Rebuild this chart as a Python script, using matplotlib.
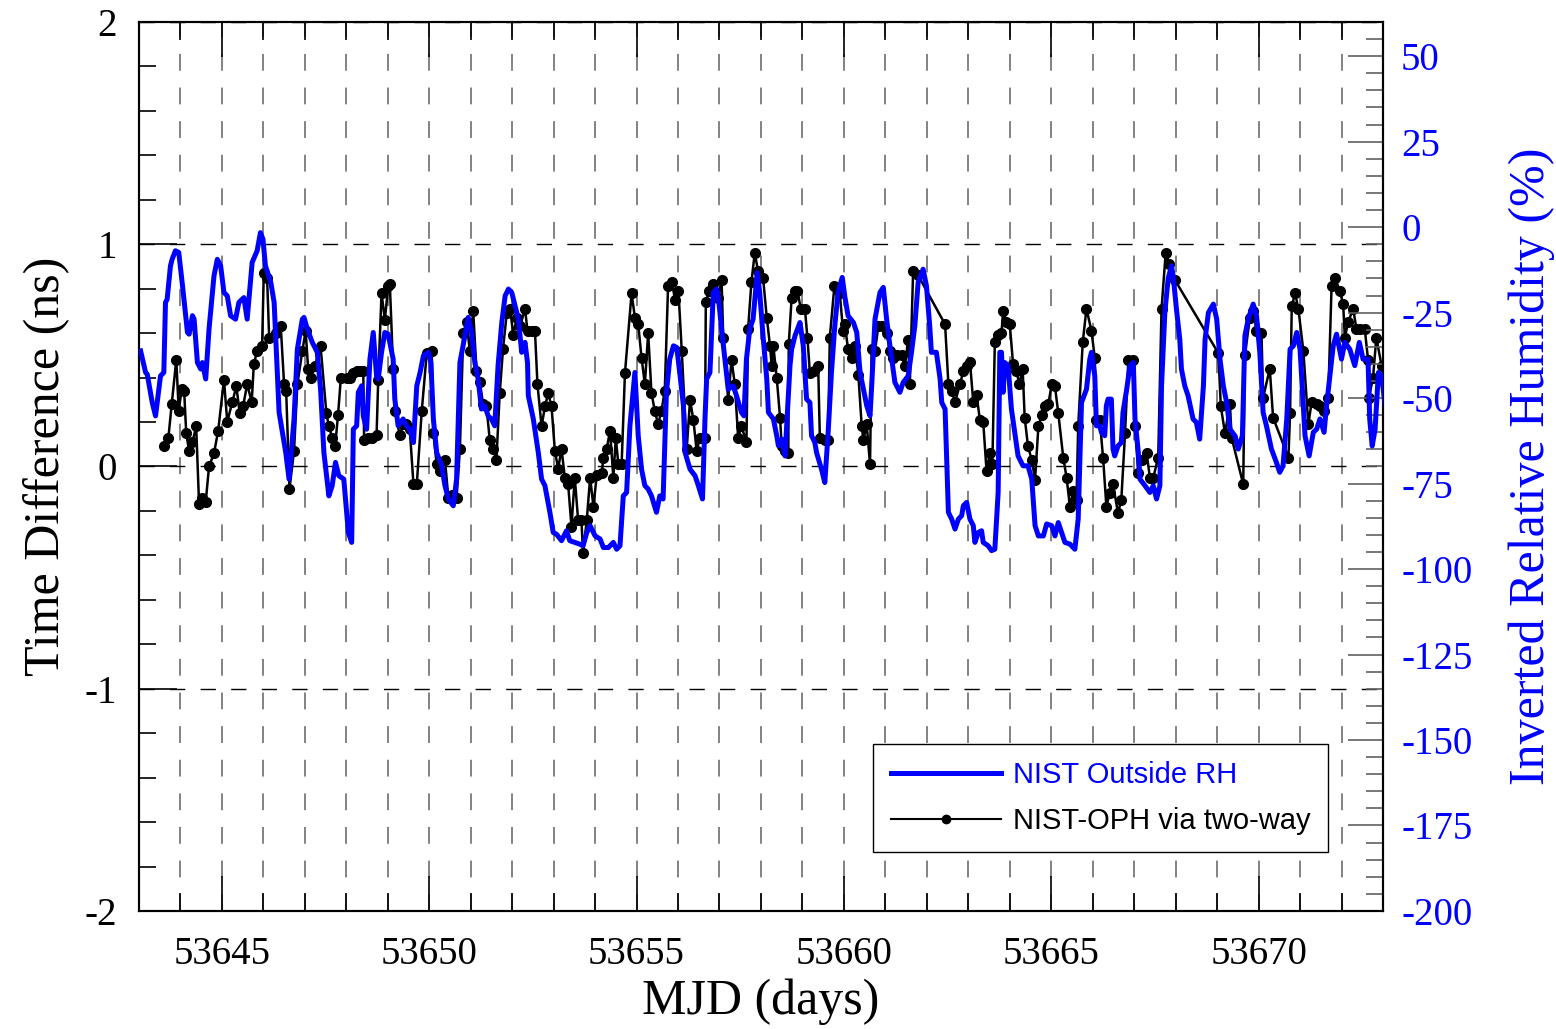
import matplotlib
matplotlib.use("Agg")
import matplotlib.pyplot as plt
from matplotlib.ticker import MultipleLocator, FormatStrFormatter
from matplotlib.lines import Line2D

plt.rcParams["axes.unicode_minus"] = False

# NIST outside relative humidity, plotted inverted (%), vs MJD
rh_mjd = [
    53643.04, 53643.16, 53643.20, 53643.32, 53643.40, 53643.52, 53643.60, 53643.64, 53643.68, 53643.76,
    53643.80, 53643.88, 53643.96, 53644.05, 53644.17, 53644.21, 53644.29, 53644.33, 53644.41, 53644.49,
    53644.53, 53644.61, 53644.69, 53644.81, 53644.89, 53644.97, 53645.05, 53645.13, 53645.21, 53645.33,
    53645.41, 53645.53, 53645.61, 53645.73, 53645.85, 53645.93, 53645.99, 53646.05, 53646.18, 53646.26,
    53646.38, 53646.54, 53646.62, 53646.74, 53646.82, 53646.94, 53646.98, 53647.06, 53647.18, 53647.30,
    53647.38, 53647.46, 53647.58, 53647.66, 53647.74, 53647.82, 53647.94, 53648.05, 53648.13, 53648.17,
    53648.25, 53648.29, 53648.37, 53648.41, 53648.49, 53648.57, 53648.65, 53648.73, 53648.77, 53648.85,
    53648.93, 53649.01, 53649.13, 53649.17, 53649.25, 53649.37, 53649.45, 53649.53, 53649.62, 53649.70,
    53649.78, 53649.86, 53649.98, 53650.04, 53650.10, 53650.18, 53650.30, 53650.38, 53650.46, 53650.58,
    53650.66, 53650.74, 53650.86, 53650.94, 53651.02, 53651.10, 53651.18, 53651.26, 53651.34, 53651.42,
    53651.50, 53651.58, 53651.66, 53651.75, 53651.83, 53651.91, 53651.99, 53652.07, 53652.15, 53652.23,
    53652.31, 53652.37, 53652.39, 53652.51, 53652.63, 53652.71, 53652.79, 53652.91, 53652.99, 53653.07,
    53653.19, 53653.31, 53653.39, 53653.51, 53653.63, 53653.71, 53653.80, 53653.88, 53654.00, 53654.12,
    53654.20, 53654.32, 53654.44, 53654.52, 53654.60, 53654.68, 53654.76, 53654.84, 53654.96, 53655.04,
    53655.12, 53655.20, 53655.28, 53655.36, 53655.48, 53655.56, 53655.64, 53655.72, 53655.80, 53655.89,
    53655.97, 53656.05, 53656.13, 53656.17, 53656.29, 53656.41, 53656.49, 53656.59, 53656.65, 53656.69,
    53656.77, 53656.85, 53656.93, 53656.97, 53657.05, 53657.13, 53657.21, 53657.33, 53657.41, 53657.53,
    53657.59, 53657.65, 53657.73, 53657.81, 53657.91, 53657.97, 53658.05, 53658.14, 53658.18, 53658.30,
    53658.38, 53658.42, 53658.50, 53658.58, 53658.66, 53658.70, 53658.74, 53658.82, 53658.94, 53659.02,
    53659.10, 53659.18, 53659.22, 53659.30, 53659.34, 53659.46, 53659.54, 53659.62, 53659.70, 53659.78,
    53659.86, 53659.96, 53660.02, 53660.10, 53660.23, 53660.31, 53660.39, 53660.47, 53660.55, 53660.63,
    53660.67, 53660.71, 53660.75, 53660.87, 53660.95, 53661.03, 53661.11, 53661.23, 53661.35, 53661.43,
    53661.55, 53661.63, 53661.71, 53661.79, 53661.91, 53661.99, 53662.07, 53662.11, 53662.23, 53662.32,
    53662.36, 53662.44, 53662.52, 53662.60, 53662.68, 53662.76, 53662.84, 53662.88, 53662.96, 53663.04,
    53663.12, 53663.16, 53663.24, 53663.32, 53663.36, 53663.48, 53663.56, 53663.64, 53663.72, 53663.76,
    53663.80, 53663.84, 53663.88, 53663.96, 53664.04, 53664.12, 53664.20, 53664.32, 53664.44, 53664.53,
    53664.61, 53664.69, 53664.81, 53664.89, 53665.01, 53665.09, 53665.17, 53665.25, 53665.33, 53665.45,
    53665.57, 53665.65, 53665.73, 53665.85, 53665.93, 53665.97, 53666.05, 53666.09, 53666.17, 53666.21,
    53666.29, 53666.33, 53666.37, 53666.45, 53666.49, 53666.53, 53666.61, 53666.69, 53666.73, 53666.82,
    53666.90, 53666.98, 53667.02, 53667.10, 53667.14, 53667.26, 53667.38, 53667.46, 53667.54, 53667.62,
    53667.66, 53667.74, 53667.82, 53667.90, 53667.94, 53668.02, 53668.10, 53668.14, 53668.22, 53668.30,
    53668.42, 53668.50, 53668.58, 53668.67, 53668.71, 53668.79, 53668.91, 53668.99, 53669.07, 53669.15,
    53669.23, 53669.31, 53669.43, 53669.51, 53669.61, 53669.67, 53669.75, 53669.87, 53669.95, 53670.03,
    53670.11, 53670.19, 53670.31, 53670.43, 53670.51, 53670.59, 53670.68, 53670.76, 53670.84, 53670.92,
    53671.00, 53671.12, 53671.22, 53671.32, 53671.40, 53671.48, 53671.58, 53671.64, 53671.72, 53671.80,
    53671.88, 53672.00, 53672.08, 53672.20, 53672.32, 53672.43, 53672.52, 53672.64, 53672.68, 53672.74,
    53672.81, 53672.89, 53672.97, 53673.05,
]
rh_val = [
    -36.2, -42.5, -43.0, -51.3, -55.2, -43.5, -42.5, -22.0, -21.1, -11.3,
    -9.4, -6.9, -7.4, -17.1, -30.8, -31.3, -25.9, -26.9, -39.6, -41.5,
    -39.6, -44.4, -29.8, -14.2, -9.4, -11.3, -19.1, -20.1, -25.9, -26.9,
    -22.0, -20.6, -26.9, -10.3, -6.9, -1.6, -3.5, -11.3, -16.2, -22.0,
    -54.2, -65.9, -73.7, -56.1, -35.7, -26.9, -26.4, -29.8, -33.7, -36.6,
    -47.4, -65.9, -78.6, -75.6, -68.8, -72.7, -73.7, -89.3, -92.2, -59.1,
    -58.1, -48.3, -46.4, -55.2, -59.1, -38.6, -30.8, -43.5, -44.4, -36.6,
    -30.8, -31.3, -38.6, -50.3, -58.1, -56.1, -58.1, -59.1, -63.0, -46.4,
    -42.5, -37.6, -36.6, -39.6, -56.1, -65.9, -69.8, -75.6, -79.5, -81.5,
    -73.7, -39.6, -31.8, -26.4, -30.8, -39.6, -44.4, -53.2, -52.2, -55.2,
    -56.1, -58.1, -40.5, -27.9, -20.1, -18.1, -19.1, -23.0, -26.9, -36.6,
    -33.7, -39.6, -49.3, -56.1, -65.9, -73.7, -75.6, -83.4, -89.3, -89.8,
    -91.7, -88.8, -91.7, -92.2, -92.7, -93.2, -89.3, -87.3, -90.3, -91.2,
    -93.7, -93.7, -92.2, -94.2, -93.2, -78.6, -77.6, -58.1, -42.5, -61.0,
    -70.8, -75.6, -76.6, -78.6, -83.4, -78.6, -79.5, -48.3, -38.6, -34.7,
    -35.2, -43.5, -52.2, -65.9, -70.8, -72.7, -75.6, -79.5, -56.1, -44.4,
    -42.5, -19.1, -18.1, -20.1, -29.8, -38.6, -47.4, -46.4, -49.3, -54.2,
    -55.2, -38.6, -29.8, -26.9, -13.3, -19.1, -31.8, -44.4, -54.2, -56.1,
    -61.0, -63.9, -62.0, -66.9, -49.3, -40.5, -35.7, -31.8, -27.9, -34.7,
    -50.3, -51.3, -61.0, -63.0, -65.9, -70.8, -74.7, -60.0, -42.5, -28.9,
    -19.1, -14.7, -20.1, -25.9, -27.9, -30.8, -42.5, -47.4, -52.2, -55.2,
    -46.4, -36.6, -26.9, -19.1, -17.6, -26.9, -34.7, -45.4, -48.3, -45.4,
    -43.5, -36.6, -28.9, -16.2, -12.3, -17.1, -28.9, -36.6, -36.6, -44.4,
    -51.3, -53.2, -83.4, -85.4, -88.3, -85.4, -84.4, -81.5, -80.5, -85.4,
    -87.3, -92.2, -89.3, -88.8, -92.2, -93.2, -94.6, -94.2, -77.6, -36.6,
    -36.6, -48.3, -39.6, -40.5, -53.2, -60.0, -66.9, -69.8, -69.8, -73.7,
    -87.3, -90.3, -90.3, -86.8, -87.3, -90.3, -86.4, -89.3, -92.2, -92.7,
    -94.2, -85.4, -51.3, -47.4, -38.6, -36.6, -43.5, -58.1, -58.1, -60.0,
    -61.0, -52.2, -50.3, -50.3, -64.9, -66.9, -64.0, -63.0, -54.2, -47.4,
    -40.5, -39.6, -56.1, -65.9, -73.7, -75.6, -77.6, -75.6, -79.5, -75.6,
    -46.4, -24.9, -15.0, -11.3, -14.2, -24.0, -32.8, -41.5, -46.4, -49.3,
    -56.1, -57.1, -62.0, -46.4, -32.8, -25.0, -22.5, -26.9, -38.6, -46.4,
    -51.3, -59.1, -61.0, -64.9, -61.0, -31.8, -26.9, -22.5, -25.9, -36.6,
    -54.2, -58.1, -64.9, -68.8, -71.7, -69.8, -56.1, -35.7, -34.7, -30.8,
    -35.7, -61.0, -66.9, -60.0, -59.1, -56.1, -60.0, -52.2, -43.5, -34.7,
    -31.3, -38.6, -33.7, -35.7, -40.5, -33.7, -38.6, -38.6, -56.1, -64.0,
    -59.1, -42.5, -43.5, -52.2,
]

# NIST-OPH time difference via two-way (ns)
td_mjd = [
    53643.60, 53643.71, 53643.79, 53643.90, 53643.96, 53644.03, 53644.09, 53644.14, 53644.21, 53644.29,
    53644.38, 53644.45, 53644.53, 53644.61, 53644.69, 53644.81, 53644.91, 53645.05, 53645.13, 53645.25,
    53645.35, 53645.43, 53645.51, 53645.61, 53645.72, 53645.77, 53645.85, 53645.97, 53646.01, 53646.09,
    53646.14, 53646.30, 53646.42, 53646.50, 53646.55, 53646.63, 53646.74, 53646.82, 53646.94, 53647.02,
    53647.08, 53647.16, 53647.24, 53647.38, 53647.52, 53647.58, 53647.66, 53647.73, 53647.80, 53647.87,
    53648.01, 53648.09, 53648.17, 53648.25, 53648.33, 53648.41, 53648.43, 53648.53, 53648.61, 53648.73,
    53648.77, 53648.85, 53648.93, 53649.01, 53649.05, 53649.13, 53649.17, 53649.29, 53649.37, 53649.45,
    53649.53, 53649.62, 53649.70, 53649.82, 53649.94, 53650.06, 53650.10, 53650.18, 53650.26, 53650.38,
    53650.46, 53650.54, 53650.66, 53650.74, 53650.82, 53650.90, 53650.98, 53651.06, 53651.14, 53651.22,
    53651.30, 53651.38, 53651.46, 53651.54, 53651.62, 53651.70, 53651.78, 53651.87, 53651.95, 53652.03,
    53652.11, 53652.19, 53652.31, 53652.37, 53652.47, 53652.55, 53652.61, 53652.71, 53652.79, 53652.87,
    53652.95, 53653.03, 53653.11, 53653.19, 53653.27, 53653.35, 53653.43, 53653.51, 53653.59, 53653.67,
    53653.71, 53653.80, 53653.88, 53653.96, 53654.04, 53654.16, 53654.20, 53654.28, 53654.36, 53654.44,
    53654.50, 53654.56, 53654.64, 53654.72, 53654.88, 53654.96, 53655.04, 53655.12, 53655.20, 53655.28,
    53655.36, 53655.44, 53655.52, 53655.60, 53655.68, 53655.76, 53655.85, 53655.93, 53656.01, 53656.09,
    53656.21, 53656.29, 53656.37, 53656.45, 53656.53, 53656.65, 53656.67, 53656.75, 53656.85, 53656.97,
    53657.05, 53657.09, 53657.21, 53657.29, 53657.37, 53657.45, 53657.53, 53657.65, 53657.69, 53657.77,
    53657.85, 53657.93, 53658.05, 53658.14, 53658.22, 53658.26, 53658.30, 53658.38, 53658.46, 53658.50,
    53658.58, 53658.66, 53658.67, 53658.74, 53658.82, 53658.88, 53658.96, 53659.06, 53659.12, 53659.18,
    53659.29, 53659.38, 53659.42, 53659.54, 53659.62, 53659.66, 53659.77, 53659.90, 53659.98, 53660.02,
    53660.10, 53660.19, 53660.27, 53660.35, 53660.43, 53660.47, 53660.55, 53660.63, 53660.67, 53660.75,
    53660.83, 53660.91, 53661.03, 53661.11, 53661.19, 53661.27, 53661.39, 53661.47, 53661.55, 53661.59,
    53661.67, 53661.79, 53662.44, 53662.52, 53662.60, 53662.68, 53662.80, 53662.88, 53662.96, 53663.04,
    53663.12, 53663.20, 53663.28, 53663.36, 53663.44, 53663.52, 53663.58, 53663.64, 53663.72, 53663.80,
    53663.84, 53663.92, 53664.00, 53664.08, 53664.16, 53664.23, 53664.31, 53664.36, 53664.44, 53664.53,
    53664.61, 53664.69, 53664.77, 53664.85, 53664.93, 53665.01, 53665.09, 53665.17, 53665.29, 53665.37,
    53665.45, 53665.53, 53665.61, 53665.65, 53665.76, 53665.85, 53665.97, 53666.05, 53666.09, 53666.17,
    53666.25, 53666.33, 53666.41, 53666.49, 53666.61, 53666.69, 53666.78, 53666.86, 53666.98, 53667.02,
    53667.10, 53667.18, 53667.30, 53667.38, 53667.46, 53667.58, 53667.66, 53667.76, 53667.85, 53667.98,
    53669.03, 53669.09, 53669.19, 53669.31, 53669.35, 53669.63, 53669.67, 53669.79, 53669.87, 53669.95,
    53670.07, 53670.11, 53670.27, 53670.35, 53670.72, 53670.76, 53670.80, 53670.88, 53670.96, 53671.08,
    53671.20, 53671.28, 53671.40, 53671.48, 53671.58, 53671.68, 53671.76, 53671.84, 53671.96, 53672.04,
    53672.08, 53672.16, 53672.28, 53672.36, 53672.44, 53672.56, 53672.64, 53672.66, 53672.76, 53672.84,
    53672.97, 53673.05,
]
td_val = [
    0.09, 0.13, 0.28, 0.48, 0.25, 0.35, 0.34, 0.15, 0.07, 0.11,
    0.18, -0.17, -0.14, -0.16, 0.00, 0.06, 0.16, 0.39, 0.20, 0.29,
    0.36, 0.24, 0.27, 0.37, 0.29, 0.46, 0.52, 0.54, 0.87, 0.85,
    0.58, 0.60, 0.63, 0.37, 0.34, -0.10, 0.07, 0.37, 0.52, 0.61,
    0.44, 0.40, 0.45, 0.54, 0.24, 0.18, 0.13, 0.09, 0.23, 0.40,
    0.40, 0.40, 0.42, 0.43, 0.43, 0.43, 0.12, 0.13, 0.13, 0.14,
    0.39, 0.78, 0.66, 0.81, 0.82, 0.44, 0.25, 0.14, 0.19, 0.19,
    0.17, -0.08, -0.08, 0.25, 0.51, 0.52, 0.15, 0.01, -0.02, 0.03,
    -0.14, -0.13, -0.14, 0.08, 0.60, 0.65, 0.52, 0.70, 0.43, 0.38,
    0.28, 0.27, 0.12, 0.08, 0.03, 0.33, 0.53, 0.69, 0.71, 0.59,
    0.67, 0.63, 0.71, 0.61, 0.61, 0.61, 0.37, 0.18, 0.27, 0.33,
    0.27, 0.07, -0.01, 0.08, -0.05, -0.08, -0.27, -0.05, -0.24, -0.24,
    -0.39, -0.24, -0.05, -0.18, -0.04, -0.03, 0.04, 0.08, 0.16, -0.05,
    0.13, 0.01, 0.01, 0.42, 0.78, 0.67, 0.64, 0.49, 0.37, 0.60,
    0.33, 0.25, 0.19, 0.25, 0.34, 0.81, 0.83, 0.75, 0.79, 0.52,
    0.08, 0.30, 0.21, 0.07, 0.13, 0.13, 0.74, 0.79, 0.82, 0.76,
    0.84, 0.58, 0.30, 0.48, 0.37, 0.13, 0.18, 0.11, 0.62, 0.83,
    0.96, 0.88, 0.85, 0.67, 0.54, 0.45, 0.54, 0.40, 0.22, 0.09,
    0.07, 0.06, 0.55, 0.76, 0.79, 0.79, 0.71, 0.71, 0.58, 0.42,
    0.43, 0.45, 0.13, 0.12, 0.12, 0.58, 0.81, 0.78, 0.61, 0.64,
    0.53, 0.49, 0.54, 0.41, 0.18, 0.12, 0.19, 0.01, 0.53, 0.52,
    0.63, 0.63, 0.60, 0.52, 0.49, 0.50, 0.50, 0.45, 0.57, 0.37,
    0.88, 0.86, 0.64, 0.37, 0.34, 0.29, 0.37, 0.43, 0.45, 0.47,
    0.29, 0.32, 0.21, 0.20, -0.02, 0.06, 0.01, 0.56, 0.59, 0.60,
    0.70, 0.65, 0.64, 0.46, 0.43, 0.37, 0.44, 0.22, 0.09, 0.03,
    -0.06, 0.18, 0.23, 0.27, 0.28, 0.37, 0.36, 0.24, 0.04, -0.05,
    -0.18, -0.11, -0.15, 0.18, 0.56, 0.71, 0.61, 0.49, 0.21, 0.21,
    0.04, -0.18, -0.12, -0.08, -0.21, -0.15, 0.15, 0.48, 0.48, 0.18,
    -0.03, 0.03, 0.06, -0.05, -0.05, 0.04, 0.71, 0.96, 0.91, 0.84,
    0.51, 0.27, 0.15, 0.28, 0.13, -0.08, 0.50, 0.67, 0.70, 0.61,
    0.60, 0.31, 0.44, 0.22, 0.04, 0.24, 0.72, 0.78, 0.71, 0.52,
    0.19, 0.29, 0.28, 0.27, 0.25, 0.31, 0.81, 0.85, 0.79, 0.73,
    0.58, 0.65, 0.71, 0.62, 0.62, 0.62, 0.48, 0.31, 0.40, 0.58,
    0.45, 0.45,
]

SERIF = "Liberation Serif"
SANS = "Liberation Sans"
BLUE = "#0000ff"

fig = plt.figure(figsize=(15.56, 10.29), dpi=100)
ax = fig.add_axes([0.0893, 0.1147, 0.7995, 0.8639])
ax2 = ax.twinx()

# grid: gray dashed at every day, black dashed at integer ns
ax.set_axisbelow(True)
ax.xaxis.grid(True, which="both", color="#606060", linestyle=(0, (11, 11)), linewidth=1.1)
ax.yaxis.grid(True, which="major", color="black", linestyle=(0, (11, 11)), linewidth=1.0)

ax.plot(td_mjd, td_val, color="black", lw=1.8, marker="o", ms=7, zorder=3)
ax2.plot(rh_mjd, rh_val, color=BLUE, lw=3.6, zorder=4)

ax.set_xlim(53643, 53673)
ax.set_ylim(-2, 2)
ax2.set_ylim(-200, 60)

ax.xaxis.set_major_locator(MultipleLocator(5))
ax.xaxis.set_minor_locator(MultipleLocator(1))
ax.xaxis.set_major_formatter(FormatStrFormatter("%d"))
ax.yaxis.set_major_locator(MultipleLocator(1))
ax.yaxis.set_minor_locator(MultipleLocator(0.2))
ax.yaxis.set_major_formatter(FormatStrFormatter("%g"))
ax2.yaxis.set_major_locator(MultipleLocator(25))
ax2.yaxis.set_minor_locator(MultipleLocator(5))
ax2.yaxis.set_major_formatter(FormatStrFormatter("%d"))

ax.tick_params(axis="x", which="major", direction="in", length=25, width=1.2,
               top=True, pad=18, labelsize=28)
ax.tick_params(axis="x", which="minor", direction="in", length=13, width=1.2, top=True)
ax.tick_params(axis="y", which="major", direction="in", length=27, width=1.2,
               right=False, pad=16, labelsize=28)
ax.tick_params(axis="y", which="minor", direction="in", length=12, width=1.2, right=False)
ax2.tick_params(axis="y", which="major", direction="in", length=25, width=1.2,
                color="#606060", labelcolor=BLUE, pad=13, labelsize=28)
ax2.tick_params(axis="y", which="minor", direction="in", length=12, width=1.2,
                color="#606060")

for lab in ax.get_xticklabels() + ax.get_yticklabels() + ax2.get_yticklabels():
    lab.set_fontfamily(SERIF)

for a in (ax, ax2):
    for s in a.spines.values():
        s.set_linewidth(1.5)

ax.set_xlabel("MJD (days)", fontsize=36, family=SERIF, labelpad=4)
ax.set_ylabel("Time Difference (ns)", fontsize=36, family=SERIF, labelpad=10)
ax2.set_ylabel("Inverted Relative Humidity (%)", fontsize=36, family=SERIF,
               color=BLUE, labelpad=26)

handles = [
    Line2D([], [], color=BLUE, lw=3.6),
    Line2D([], [], color="black", lw=1.5, marker="o", ms=6, markevery=[1]),
]
handles[1].set_xdata([0, 0.5, 1])
leg = ax2.legend(handles, ["NIST Outside RH", "NIST-OPH via two-way"],
                 loc="lower right", bbox_to_anchor=(0.956, 0.066),
                 prop={"family": SANS, "size": 21}, frameon=True, fancybox=False,
                 edgecolor="black", framealpha=1, handlelength=3.8,
                 borderpad=0.6, labelspacing=0.6, handletextpad=0.4,
                 borderaxespad=0)
leg.get_frame().set_linewidth(1.0)
leg.get_texts()[0].set_color(BLUE)
leg.get_texts()[1].set_color("black")

fig.savefig("out.png", dpi=100, facecolor="white")
